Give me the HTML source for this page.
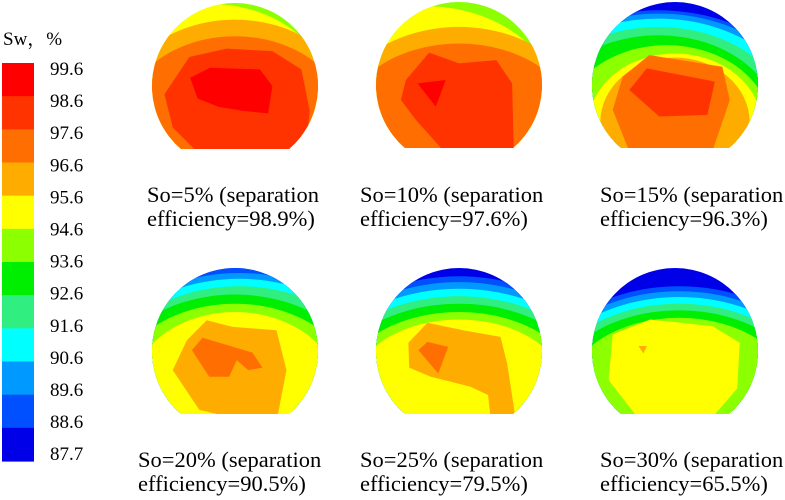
<!DOCTYPE html>
<html><head><meta charset="utf-8">
<style>
html,body{margin:0;padding:0;background:#fff;}
svg{display:block;}
svg text{font-family:"Liberation Serif","Tinos","DejaVu Serif","Noto Serif CJK SC",serif;fill:#000;}
</style></head>
<body>
<svg id="fig" width="785" height="500" viewBox="0 0 785 500" xmlns="http://www.w3.org/2000/svg">
<defs id="defs"></defs>
<text x="3" y="45" font-size="19">Sw，%</text>
<g id="cbar"></g>
<g id="discs"></g>
</svg>
<script>
const NS='http://www.w3.org/2000/svg';
const palette=['#ff0000','#ff3300','#ff6e00','#ffac00','#ffff00','#8cff00','#00ee00','#30ee80','#00ffff','#0099ff','#0050ff','#0000e8'];
const tickLabels=['99.6','98.6','97.6','96.6','95.6','94.6','93.6','92.6','91.6','90.6','89.6','88.6','87.7'];
const captions1=['So=5% (separation','So=10% (separation','So=15% (separation','So=20% (separation','So=25% (separation','So=30% (separation'];
const captions2=['efficiency=98.9%)','efficiency=97.6%)','efficiency=96.3%)','efficiency=90.5%)','efficiency=79.5%)','efficiency=65.5%)'];
const panelBase=[5,5,11,11,11,11];
const panelLayers=[
 [['e',4,-0.3,0.45,1.6,1.44],['e',3,0,0.45,1.5,1.25],['e',2,0,0.45,1.35,1.05],
  ['p',1,[-0.85,0.1,-0.55,-0.35,-0.1,-0.45,0.45,-0.42,0.8,-0.2,0.9,0.3,0.85,0.8,-0.45,0.8,-0.75,0.5]],
  ['p',0,[-0.54,-0.1,-0.3,-0.22,0.3,-0.2,0.45,0.0,0.4,0.33,0.1,0.3,-0.2,0.25,-0.45,0.15]]],
 [['e',4,-0.4,0.5,1.7,1.45],['e',3,0,0.5,1.55,1.2],['e',2,0,0.5,1.4,1.0],
  ['p',1,[-0.7,0.18,-0.64,-0.06,-0.36,-0.39,0,-0.26,0.45,-0.3,0.64,-0.02,0.66,0.8,-0.18,0.8,-0.52,0.42]],
  ['p',0,[-0.5,-0.02,-0.16,-0.06,-0.28,0.26]]],
 [['e',10,-0.2,0.5,1.9,1.4],['e',9,-0.2,0.5,1.85,1.36],['e',8,-0.2,0.5,1.75,1.3],['e',7,-0.2,0.5,1.6,1.2],
  ['e',6,-0.2,0.5,1.45,1.1],['e',5,-0.1,0.5,1.25,0.98],['e',4,0,0.5,1.05,0.88],['e',3,0,0.45,0.9,0.78],
  ['p',2,[-0.63,-0.1,-0.31,-0.36,0.57,-0.22,0.66,0.18,0.45,0.8,-0.55,0.8,-0.75,0.3]],
  ['p',1,[-0.55,0.06,-0.34,-0.2,0.48,-0.04,0.39,0.36,-0.19,0.38]]],
 [['e',10,0.05,0.5,1.9,1.5],['e',9,0.05,0.5,1.85,1.44],['e',8,0.05,0.5,1.8,1.37],['e',7,0.05,0.5,1.7,1.28],
  ['e',6,0.0,0.5,1.6,1.18],['e',5,0.0,0.5,1.45,1.07],['e',4,0.0,0.5,1.25,0.97],
  ['p',3,[-0.58,-0.13,-0.34,-0.37,-0.03,-0.29,0.5,-0.25,0.62,0.23,0.51,0.8,-0.03,0.8,-0.43,0.71,-0.75,0.23]],
  ['p',2,[-0.52,-0.01,-0.39,-0.16,0.21,0.02,0.33,0.2,0.16,0.23,0.02,0.11,-0.07,0.31,-0.31,0.31]]],
 [['e',10,0.0,0.5,1.9,1.4],['e',9,0.0,0.5,1.85,1.33],['e',8,0.0,0.5,1.8,1.25],['e',7,0.0,0.5,1.7,1.16],
  ['e',6,0.0,0.5,1.6,1.07],['e',5,0.0,0.5,1.45,0.97],['e',4,0.0,0.5,1.3,0.88],
  ['p',3,[-0.61,-0.1,-0.38,-0.34,0.05,-0.25,0.5,-0.17,0.58,0.15,0.68,0.8,0.38,0.8,0.35,0.53,0.14,0.43,-0.34,0.31,-0.6,0.2]],
  ['p',2,[-0.49,-0.01,-0.38,-0.11,-0.13,-0.05,-0.25,0.27]]],
 [['e',10,0.05,0.5,1.8,1.28],['e',9,0.05,0.5,1.75,1.22],['e',8,0.05,0.5,1.7,1.15],['e',7,0.05,0.5,1.6,1.07],
  ['e',6,0.05,0.5,1.5,0.99],['e',5,0.05,0.5,1.35,0.9],
  ['p',4,[-0.75,-0.2,-0.3,-0.38,0.45,-0.3,0.78,-0.1,0.75,0.45,0.45,0.8,-0.45,0.8,-0.8,0.35]],
  ['p',3,[-0.44,-0.06,-0.34,-0.06,-0.38,0.03]]]
];
const panelPos=[[235,86],[459,85],[675,85],[235,351],[459,351],[675,351]];
const capX=[147,360,600,138,360,600];
const R=83, CUT=63;

function el(tag,attrs,parent){const e=document.createElementNS(NS,tag);for(const k in attrs)e.setAttribute(k,attrs[k]);parent.appendChild(e);return e;}

const cb=document.getElementById('cbar');
const cbTop=63, cbBot=461, nb=palette.length, bh=(cbBot-cbTop)/nb;
palette.forEach((c,i)=>{
  const r=el('rect',{x:2,y:(cbTop+i*bh).toFixed(2),width:32,height:(bh+0.6).toFixed(2),fill:c},cb);
  
  
});
tickLabels.forEach((t,i)=>{
  const tx=el('text',{x:50,y:(75+i*32.1).toFixed(1),'font-size':19},cb);
  tx.textContent=t;
  
  
});

const defs=document.getElementById('defs');
const dg=document.getElementById('discs');
panelPos.forEach((p,i)=>{
  const [cx,cy]=p;
  const cp=el('clipPath',{id:'clip'+i},defs);
  const hw=Math.sqrt(R*R-CUT*CUT);
  el('path',{d:`M${cx-hw},${cy+CUT} A${R},${R} 0 1 1 ${cx+hw},${cy+CUT} Z`},cp);
  const g=el('g',{'clip-path':`url(#clip${i})`},dg);
  
  
  const inner=el('g',{transform:`translate(${cx},${cy}) scale(${R})`},g);
  el('rect',{x:-1.1,y:-1.1,width:2.2,height:2.2,fill:palette[panelBase[i]]},inner);
  panelLayers[i].forEach(L=>{
    let s;
    if(L[0]==='e'){s=el('ellipse',{cx:L[2],cy:L[3],rx:L[4],ry:L[5],fill:palette[L[1]]},inner);}
    else{const pts=L[2];let str='';for(let k=0;k<pts.length;k+=2)str+=pts[k]+','+pts[k+1]+' ';
      s=el('polygon',{points:str.trim(),fill:palette[L[1]]},inner);}
    
    
  });
  const baseY = i<3 ? 202 : 467;
  const t1=el('text',{x:capX[i],y:baseY,'font-size':22.5},dg);
  t1.textContent=captions1[i];
  
  
  const t2=el('text',{x:capX[i],y:baseY+24,'font-size':22.5},dg);
  t2.textContent=captions2[i];
  
  
});
</script>
</body></html>
